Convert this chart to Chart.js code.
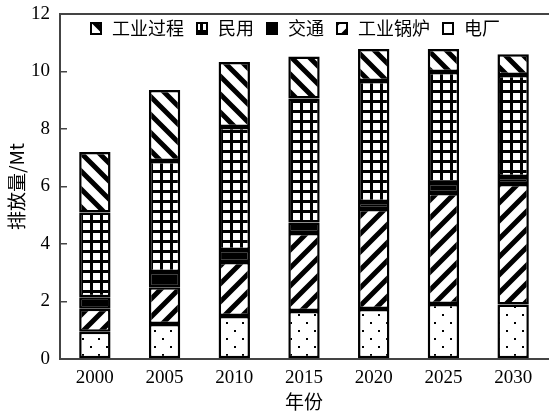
<!DOCTYPE html>
<html>
<head>
<meta charset="utf-8">
<script src="https://cdn.jsdelivr.net/npm/chart.js@4"></script>
<style>
  html, body { margin: 0; padding: 0; background: #fff; }
  #wrap { width: 549px; height: 413px; }
</style>
</head>
<body>
<div id="wrap"><canvas id="chart" width="549" height="413"></canvas></div>
<script>
// 数据 (Mt)
const years = ['2000', '2005', '2010', '2015', '2020', '2025', '2030'];
const powerPlant = [0.95, 1.22, 1.5, 1.67, 1.74, 1.91, 1.9];          // 电厂
const industrialBoiler = [0.8, 1.28, 1.87, 2.71, 3.48, 3.86, 4.19];   // 工业锅炉
const transport = [0.4, 0.53, 0.42, 0.37, 0.24, 0.35, 0.24];          // 交通
const residential = [2.95, 3.86, 4.28, 4.31, 4.21, 3.86, 3.55];       // 民用
const industrialProcess = [2.1, 2.47, 2.26, 1.46, 1.11, 0.8, 0.72];   // 工业过程
const yTicks = [0, 2, 4, 6, 8, 10, 12];

const AXIS = '#444';
const CJK = '"Noto Sans CJK SC", "Noto Sans", sans-serif';
const SERIF = '"Liberation Serif", "DejaVu Serif", serif';

// 填充图案
function makePattern(w, h, draw) {
    const c = document.createElement('canvas');
    c.width = w; c.height = h;
    const g = c.getContext('2d');
    g.fillStyle = '#fff';
    g.fillRect(0, 0, w, h);
    g.fillStyle = '#000';
    g.strokeStyle = '#000';
    draw(g, w, h);
    return g.createPattern(c, 'repeat');
}

// "\" 斜线
const backSlash = makePattern(18, 18, (g, w, h) => {
    g.lineWidth = 5;
    g.beginPath();
    g.moveTo(-w, -h); g.lineTo(2 * w, 2 * h);
    g.moveTo(-w, 0); g.lineTo(w, 2 * h);
    g.moveTo(0, -h); g.lineTo(2 * w, h);
    g.stroke();
});

// "/" 斜线
const slash = makePattern(18, 18, (g, w, h) => {
    g.lineWidth = 5;
    g.beginPath();
    g.moveTo(-w, 2 * h); g.lineTo(2 * w, -h);
    g.moveTo(-w, h); g.lineTo(w, -h);
    g.moveTo(0, 2 * h); g.lineTo(2 * w, 0);
    g.stroke();
});

// 网格
const grid = makePattern(10, 10, (g, w, h) => {
    g.fillRect(0, 0, w, 3);
    g.fillRect(0, 0, 3, h);
});

// 点
const dots = makePattern(16, 16, (g) => {
    g.fillRect(2, 2, 2, 2);
    g.fillRect(10, 10, 2, 2);
});

function ds(label, data, fill) {
    return {
        label: label,
        data: data,
        backgroundColor: fill,
        borderColor: '#000',
        borderWidth: 2.5,
        borderSkipped: false,
        barPercentage: 0.5,
        categoryPercentage: 0.9
    };
}

// 图例 (画在绘图区内部) 和上边框
const frameAndLegend = {
    id: 'frameAndLegend',
    afterDraw(chart) {
        const ctx = chart.ctx;
        const area = chart.chartArea;
        ctx.save();
        ctx.strokeStyle = AXIS;
        ctx.lineWidth = 2;
        ctx.beginPath();
        ctx.moveTo(area.left, area.top);
        ctx.lineTo(area.right + 1, area.top);
        ctx.stroke();

        ctx.font = '18px ' + CJK;
        ctx.textBaseline = 'middle';
        ctx.fillStyle = '#000';
        let x = area.left + 31;
        const y = area.top + 14;
        const items = chart.data.datasets.slice().reverse();
        items.forEach((d) => {
            ctx.fillStyle = d.backgroundColor;
            ctx.fillRect(x, y - 5, 10, 11);
            ctx.strokeStyle = '#000';
            ctx.lineWidth = 2;
            ctx.strokeRect(x, y - 5, 10, 11);
            ctx.fillStyle = '#000';
            ctx.fillText(d.label, x + 21, y);
            x += 21 + ctx.measureText(d.label).width + 13;
        });
        ctx.restore();
    }
};

new Chart(document.getElementById('chart'), {
    type: 'bar',
    data: {
        labels: years,
        datasets: [
            ds('电厂', powerPlant, dots),
            ds('工业锅炉', industrialBoiler, slash),
            ds('交通', transport, '#000'),
            ds('民用', residential, grid),
            ds('工业过程', industrialProcess, backSlash)
        ]
    },
    options: {
        responsive: false,
        animation: false,
        layout: { padding: { top: 14, right: 1, left: 0, bottom: 0 } },
        plugins: {
            legend: { display: false },
            tooltip: { enabled: false }
        },
        scales: {
            x: {
                stacked: true,
                afterFit: (s) => { s.height = 54; },
                grid: { drawOnChartArea: false, drawTicks: false },
                border: { display: true, color: AXIS, width: 2 },
                ticks: { color: '#000', padding: 8, font: { family: SERIF, size: 19 } },
                title: {
                    display: true, text: '年份', color: '#000',
                    font: { family: CJK, size: 19 }, padding: { top: 0, bottom: 0 }
                }
            },
            y: {
                stacked: true,
                min: 0,
                max: 12,
                afterFit: (s) => {
                    s.width = 60;
                    s.paddingTop = 0;
                    s.paddingBottom = 0;
                },
                afterBuildTicks: (s) => { s.ticks = yTicks.map(v => ({ value: v })); },
                grid: { drawOnChartArea: false, drawTicks: true, tickLength: -7, color: AXIS, lineWidth: 1.5 },
                border: { display: true, color: AXIS, width: 2 },
                ticks: { color: '#000', padding: 17, font: { family: SERIF, size: 19 } },
                title: {
                    display: true, text: '排放量/Mt', color: '#000',
                    font: { family: CJK, size: 19 }, padding: { top: 5, bottom: 0 }
                }
            }
        }
    },
    plugins: [frameAndLegend]
});
</script>
</body>
</html>
